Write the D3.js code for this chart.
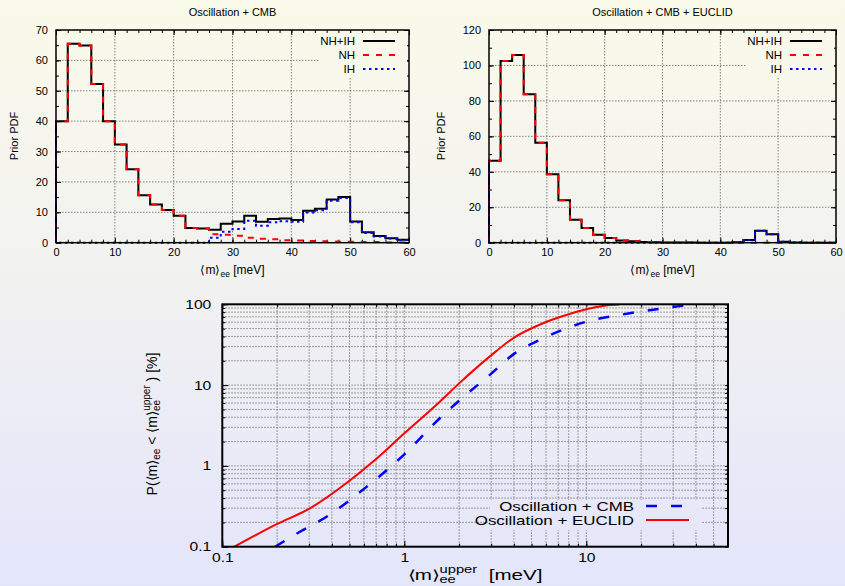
<!DOCTYPE html>
<html>
<head>
<meta charset="utf-8">
<script src="https://cdn.jsdelivr.net/npm/d3@7"></script>
<style>
    body { margin: 0; }
    svg { display: block; font-family: "Liberation Sans", Arial, Helvetica, sans-serif; }
</style>
</head>
<body>
<svg id="chart" width="845" height="586"></svg>
<script>
// Histogram bins (meV), width 2
const binStarts = [0, 2, 4, 6, 8, 10, 12, 14, 16, 18, 20, 22, 24, 26, 28,
    30, 32, 34, 36, 38, 40, 42, 44, 46, 48, 50, 52, 54, 56, 58];
const BIN_WIDTH = 2;

// Oscillation + CMB
const cmbNhIh = [40.0, 65.5, 64.9, 52.2, 40.0, 32.3, 24.2, 15.6, 12.6, 10.8, 8.9, 4.8, 4.7, 4.3, 6.2,
    7.0, 8.9, 6.9, 7.8, 8.0, 7.5, 10.5, 11.2, 14.2, 15.0, 7.0, 3.4, 2.2, 1.5, 1.0];
const cmbNh = [40.0, 65.5, 64.9, 52.2, 40.0, 32.3, 24.2, 15.6, 12.6, 10.8, 8.9, 4.8, 4.7, 2.8, 2.6,
    2.3, 1.6, 1.3, 1.1, 0.8, 0.7, 0.6, 0.5, 0.4, 0.3, 0.3, 0.2, 0.2, 0.1, 0.1];
const cmbIh = [0, 0, 0, 0, 0, 0, 0, 0, 0, 0, 0, 0, 0, 1.6, 3.6,
    4.5, 7.2, 5.6, 6.7, 7.1, 6.9, 9.9, 10.7, 13.8, 14.7, 6.7, 3.2, 2.0, 1.4, 0.9];

// Oscillation + CMB + EUCLID
const euclidNhIh = [46.3, 102.5, 105.9, 83.7, 56.4, 38.6, 23.9, 13.0, 8.3, 4.5, 2.6, 1.3, 0.75, 0.4, 0.2,
    0.1, 0.05, 0.05, 0, 0, 0, 0.2, 1.5, 6.8, 4.7, 0.6, 0.1, 0, 0, 0];
const euclidNh = [46.3, 102.5, 105.9, 83.7, 56.4, 38.6, 23.9, 13.0, 8.3, 4.5, 2.6, 1.3, 0.75, 0.4, 0.2,
    0.1, 0.05, 0.05, 0, 0, 0, 0, 0, 0, 0, 0, 0, 0, 0, 0];
const euclidIh = [0, 0, 0, 0, 0, 0, 0, 0, 0, 0, 0, 0, 0, 0, 0,
    0, 0, 0, 0, 0, 0, 0.2, 1.5, 6.8, 4.7, 0.6, 0.1, 0, 0, 0];

const histXTicks = [0, 10, 20, 30, 40, 50, 60];
const cmbYTicks = [0, 10, 20, 30, 40, 50, 60, 70];
const euclidYTicks = [0, 20, 40, 60, 80, 100, 120];
const histLegend = ["NH+IH", "NH", "IH"];

// Cumulative probability P(<m>ee < <m>ee^upper) [%]
const cdfCmbX = [0.195, 0.267, 0.374, 0.62, 1.0, 1.53, 1.97, 2.94, 4.04, 5.78, 10, 17.3, 26.3, 37.7];
const cdfCmbY = [0.1, 0.153, 0.235, 0.55, 1.39, 3.7, 6.23, 13.3, 24.7, 37.9, 60.9, 77.4, 89.2, 99];
const cdfEuclidX = [0.1165, 0.199, 0.303, 0.502, 0.674, 1.0, 1.566, 2.0, 2.94, 3.95, 5.78, 7.44, 10, 12.3, 15.2];
const cdfEuclidY = [0.1, 0.19, 0.299, 0.66, 1.13, 2.53, 6.23, 10.5, 22.5, 37.9, 58.2, 71.6, 86.7, 95.3, 100];

const logXTicks = [0.1, 1, 10];
const logYTicks = [0.1, 1, 10, 100];
const cdfLegend = ["Oscillation + CMB", "Oscillation + EUCLID"];

const svg = d3.select("#chart");
const WIDTH = 845;
const HEIGHT = 586;

// Background gradient, also reused to mask grid behind legends
const grad = svg.append("defs").append("linearGradient")
    .attr("id", "bg")
    .attr("gradientUnits", "userSpaceOnUse")
    .attr("x1", 0).attr("y1", 0).attr("x2", 0).attr("y2", HEIGHT);
grad.append("stop").attr("offset", 0).attr("stop-color", "#fafaea");
grad.append("stop").attr("offset", 0.5).attr("stop-color", "#f1f1f1");
grad.append("stop").attr("offset", 1).attr("stop-color", "#e3e5fb");

svg.append("rect").attr("width", WIDTH).attr("height", HEIGHT).attr("fill", "url(#bg)");

const GRID_STYLE = (sel) => sel
    .attr("stroke", "#666")
    .attr("stroke-width", 0.8)
    .attr("stroke-dasharray", "1.5,1.5");

// Adds tspans; each part: {t, size, dy, dx}
const addRich = (text, parts) => {
    parts.forEach((p) => {
        const span = text.append("tspan").text(p.t);
        if (p.size) span.attr("font-size", p.size);
        if (p.dy) span.attr("dy", p.dy);
        if (p.dx) span.attr("dx", p.dx);
    });
};

// The lower plot's lettering is wide, stretch glyphs horizontally
const stretch = (sel, factor) => sel.each(function () {
    const len = this.getComputedTextLength();
    if (len > 0) {
        d3.select(this)
            .attr("textLength", len * factor)
            .attr("lengthAdjust", "spacingAndGlyphs");
    }
});

const styleAxis = (g, fontSize) => {
    g.select(".domain").remove();
    g.attr("font-family", null).attr("font-size", fontSize);
    g.selectAll("line").attr("stroke", "#000");
    g.selectAll("text").attr("fill", "#000");
};

const drawHistPanel = (opts) => {
    const x = d3.scaleLinear().domain([0, 60]).range([opts.left, opts.right]);
    const y = d3.scaleLinear().domain([0, opts.yMax]).range([opts.bottom, opts.top]);
    const g = svg.append("g");

    // Grid
    g.selectAll(".vgrid")
        .data(histXTicks.filter((t) => t > 0 && t < 60))
        .enter().append("line")
        .attr("x1", (t) => x(t)).attr("x2", (t) => x(t))
        .attr("y1", opts.top).attr("y2", opts.bottom)
        .call(GRID_STYLE);
    g.selectAll(".hgrid")
        .data(opts.yTicks.filter((t) => t > 0 && t < opts.yMax))
        .enter().append("line")
        .attr("x1", opts.left).attr("x2", opts.right)
        .attr("y1", (t) => y(t)).attr("y2", (t) => y(t))
        .call(GRID_STYLE);

    // Axes, ticks drawn inward and mirrored
    const minorX = d3.range(0, 61, 2);
    const minorY = d3.range(0, opts.yMax + 0.1, opts.yMinor);

    g.append("g").attr("transform", `translate(0,${opts.bottom})`)
        .call(d3.axisBottom(x).tickValues(histXTicks).tickSize(-5).tickPadding(6).tickSizeOuter(0))
        .call(styleAxis, 11);
    g.append("g").attr("transform", `translate(0,${opts.bottom})`)
        .call(d3.axisBottom(x).tickValues(minorX).tickSize(-3).tickFormat("").tickSizeOuter(0))
        .call(styleAxis, 11);
    g.append("g").attr("transform", `translate(0,${opts.top})`)
        .call(d3.axisTop(x).tickValues(histXTicks).tickSize(-5).tickFormat("").tickSizeOuter(0))
        .call(styleAxis, 11);
    g.append("g").attr("transform", `translate(0,${opts.top})`)
        .call(d3.axisTop(x).tickValues(minorX).tickSize(-3).tickFormat("").tickSizeOuter(0))
        .call(styleAxis, 11);
    g.append("g").attr("transform", `translate(${opts.left},0)`)
        .call(d3.axisLeft(y).tickValues(opts.yTicks).tickSize(-5).tickPadding(8).tickSizeOuter(0))
        .call(styleAxis, 11);
    g.append("g").attr("transform", `translate(${opts.left},0)`)
        .call(d3.axisLeft(y).tickValues(minorY).tickSize(-3).tickFormat("").tickSizeOuter(0))
        .call(styleAxis, 11);
    g.append("g").attr("transform", `translate(${opts.right},0)`)
        .call(d3.axisRight(y).tickValues(opts.yTicks).tickSize(-5).tickFormat("").tickSizeOuter(0))
        .call(styleAxis, 11);
    g.append("g").attr("transform", `translate(${opts.right},0)`)
        .call(d3.axisRight(y).tickValues(minorY).tickSize(-3).tickFormat("").tickSizeOuter(0))
        .call(styleAxis, 11);

    // Legend box masks grid
    g.append("rect")
        .attr("x", opts.legendX - 35).attr("y", opts.top + 3)
        .attr("width", opts.right - opts.legendX + 33).attr("height", 44)
        .attr("fill", "url(#bg)");

    // Step histograms
    const line = d3.line().x((d) => x(d[0])).y((d) => y(d[1]));
    const stepPath = (values) => {
        const pts = [[0, 0], [0, opts.series[0].values[0]]];
        values.forEach((v, i) => {
            pts.push([binStarts[i], v]);
            pts.push([binStarts[i] + BIN_WIDTH, v]);
        });
        return line(pts);
    };

    opts.series.forEach((s) => {
        g.append("path")
            .attr("d", stepPath(s.values))
            .attr("fill", "none")
            .attr("stroke", s.color)
            .attr("stroke-width", s.width)
            .attr("stroke-dasharray", s.dash)
            .attr("stroke-linejoin", "miter");
    });

    // Frame
    g.append("rect")
        .attr("x", opts.left).attr("y", opts.top)
        .attr("width", opts.right - opts.left).attr("height", opts.bottom - opts.top)
        .attr("fill", "none").attr("stroke", "#000").attr("stroke-width", 1.5);

    // Legend
    opts.series.forEach((s, i) => {
        const ly = opts.top + 11 + i * 14;
        g.append("text")
            .attr("x", opts.legendX).attr("y", ly + 4)
            .attr("text-anchor", "end").attr("font-size", 11.5)
            .text(histLegend[i]);
        g.append("line")
            .attr("x1", opts.legendX + 8).attr("x2", opts.legendX + 40)
            .attr("y1", ly).attr("y2", ly)
            .attr("stroke", s.color).attr("stroke-width", s.width)
            .attr("stroke-dasharray", s.dash);
    });

    // Title and labels
    const cx = (opts.left + opts.right) / 2;
    g.append("text")
        .attr("x", cx).attr("y", 16)
        .attr("text-anchor", "middle").attr("font-size", 11)
        .text(opts.title);
    const xl = g.append("text")
        .attr("x", cx).attr("y", 274)
        .attr("text-anchor", "middle").attr("font-size", 12);
    addRich(xl, [
        { t: "\u27e8m\u27e9" },
        { t: "ee", size: 8.5, dy: 3 },
        { t: " [meV]", size: 12, dy: -3 }
    ]);
    g.append("text")
        .attr("transform", `translate(${opts.yLabelX},136) rotate(-90)`)
        .attr("text-anchor", "middle").attr("font-size", 11)
        .text("Prior PDF");
};

const histSeries = (total, nh, ih) => [
    { values: total, color: "#000", width: 2, dash: null },
    { values: nh, color: "#ff0000", width: 2, dash: "6,7" },
    { values: ih, color: "#0000ff", width: 2, dash: "2.5,3.5" }
];

drawHistPanel({
    left: 56, right: 409, top: 30, bottom: 242.7,
    yMax: 70, yTicks: cmbYTicks, yMinor: 5,
    title: "Oscillation + CMB",
    legendX: 355, yLabelX: 18,
    series: histSeries(cmbNhIh, cmbNh, cmbIh)
});

drawHistPanel({
    left: 489, right: 836, top: 30, bottom: 242.7,
    yMax: 120, yTicks: euclidYTicks, yMinor: 10,
    title: "Oscillation + CMB + EUCLID",
    legendX: 782, yLabelX: 445,
    series: histSeries(euclidNhIh, euclidNh, euclidIh)
});

// Cumulative panel
const drawCdfPanel = () => {
    const left = 222.3, right = 728, top = 304.3, bottom = 546.7;
    const x = d3.scaleLog().domain([0.1, 60]).range([left, right]);
    const y = d3.scaleLog().domain([0.1, 100]).range([bottom, top]);
    const g = svg.append("g");

    const minorX = x.ticks();
    const minorY = y.ticks();

    g.selectAll(".vgrid")
        .data(minorX.filter((t) => t > 0.1 && t < 60))
        .enter().append("line")
        .attr("x1", (t) => x(t)).attr("x2", (t) => x(t))
        .attr("y1", top).attr("y2", bottom)
        .call(GRID_STYLE);
    g.selectAll(".hgrid")
        .data(minorY.filter((t) => t > 0.1 && t < 100))
        .enter().append("line")
        .attr("x1", left).attr("x2", right)
        .attr("y1", (t) => y(t)).attr("y2", (t) => y(t))
        .call(GRID_STYLE);

    const fmt = d3.format("~g");
    g.append("g").attr("transform", `translate(0,${bottom})`)
        .call(d3.axisBottom(x).tickValues(logXTicks).tickFormat(fmt).tickSize(-6).tickPadding(6).tickSizeOuter(0))
        .call(styleAxis, 12.5)
        .call((a) => stretch(a.selectAll("text"), 1.25));
    g.append("g").attr("transform", `translate(0,${bottom})`)
        .call(d3.axisBottom(x).tickValues(minorX).tickFormat("").tickSize(-3).tickSizeOuter(0))
        .call(styleAxis, 12.5);
    g.append("g").attr("transform", `translate(0,${top})`)
        .call(d3.axisTop(x).tickValues(minorX).tickFormat("").tickSize(-3).tickSizeOuter(0))
        .call(styleAxis, 12.5);
    g.append("g").attr("transform", `translate(${left},0)`)
        .call(d3.axisLeft(y).tickValues(logYTicks).tickFormat(fmt).tickSize(-6).tickPadding(11).tickSizeOuter(0))
        .call(styleAxis, 12.5)
        .call((a) => stretch(a.selectAll("text"), 1.25));
    g.append("g").attr("transform", `translate(${left},0)`)
        .call(d3.axisLeft(y).tickValues(minorY).tickFormat("").tickSize(-3).tickSizeOuter(0))
        .call(styleAxis, 12.5);
    g.append("g").attr("transform", `translate(${right},0)`)
        .call(d3.axisRight(y).tickValues(minorY).tickFormat("").tickSize(-3).tickSizeOuter(0))
        .call(styleAxis, 12.5);

    // Legend mask
    g.append("rect")
        .attr("x", 490).attr("y", 500)
        .attr("width", 212).attr("height", 30)
        .attr("fill", "url(#bg)");

    svg.append("clipPath").attr("id", "cdfClip")
        .append("rect")
        .attr("x", left).attr("y", top)
        .attr("width", right - left).attr("height", bottom - top);

    const line = d3.line()
        .x((d) => x(d[0]))
        .y((d) => y(d[1]))
        .curve(d3.curveMonotoneX);

    const curves = [
        { xs: cdfCmbX, ys: cdfCmbY, color: "#0000ff", width: 2.5, dash: "11,14" },
        { xs: cdfEuclidX, ys: cdfEuclidY, color: "#ff0000", width: 2, dash: null }
    ];

    curves.forEach((c) => {
        g.append("path")
            .attr("clip-path", "url(#cdfClip)")
            .attr("d", line(c.xs.map((v, i) => [v, c.ys[i]])))
            .attr("fill", "none")
            .attr("stroke", c.color)
            .attr("stroke-width", c.width)
            .attr("stroke-dasharray", c.dash);
    });

    g.append("rect")
        .attr("x", left).attr("y", top)
        .attr("width", right - left).attr("height", bottom - top)
        .attr("fill", "none").attr("stroke", "#000").attr("stroke-width", 2);

    curves.forEach((c, i) => {
        const ly = 506 + i * 14;
        g.append("text")
            .attr("x", 634).attr("y", ly + 5)
            .attr("text-anchor", "end").attr("font-size", 13)
            .text(cdfLegend[i])
            .call((t) => stretch(t, 1.3));
        g.append("line")
            .attr("x1", 646).attr("x2", 689)
            .attr("y1", ly).attr("y2", ly)
            .attr("stroke", c.color).attr("stroke-width", c.width)
            .attr("stroke-dasharray", c.dash);
    });

    // Axis labels
    const xl = g.append("text")
        .attr("x", 475).attr("y", 580)
        .attr("text-anchor", "middle").attr("font-size", 14)
        .attr("textLength", 135).attr("lengthAdjust", "spacingAndGlyphs");
    addRich(xl, [
        { t: "\u27e8m\u27e9" },
        { t: "ee", size: 10, dy: 3 },
        { t: "upper", size: 10, dy: -10, dx: -11 },
        { t: "\u00a0\u00a0[meV]", size: 14, dy: 7 }
    ]);

    const yl = g.append("text")
        .attr("transform", "translate(157,424) rotate(-90)")
        .attr("text-anchor", "middle").attr("font-size", 14);
    addRich(yl, [
        { t: "P(\u27e8m\u27e9" },
        { t: "ee", size: 10, dy: 3 },
        { t: " < \u27e8m\u27e9", size: 14, dy: -3 },
        { t: "ee", size: 10, dy: 3 },
        { t: "upper", size: 10, dy: -10, dx: -11 },
        { t: "\u00a0) [%]", size: 14, dy: 7 }
    ]);
};

drawCdfPanel();
</script>
</body>
</html>
